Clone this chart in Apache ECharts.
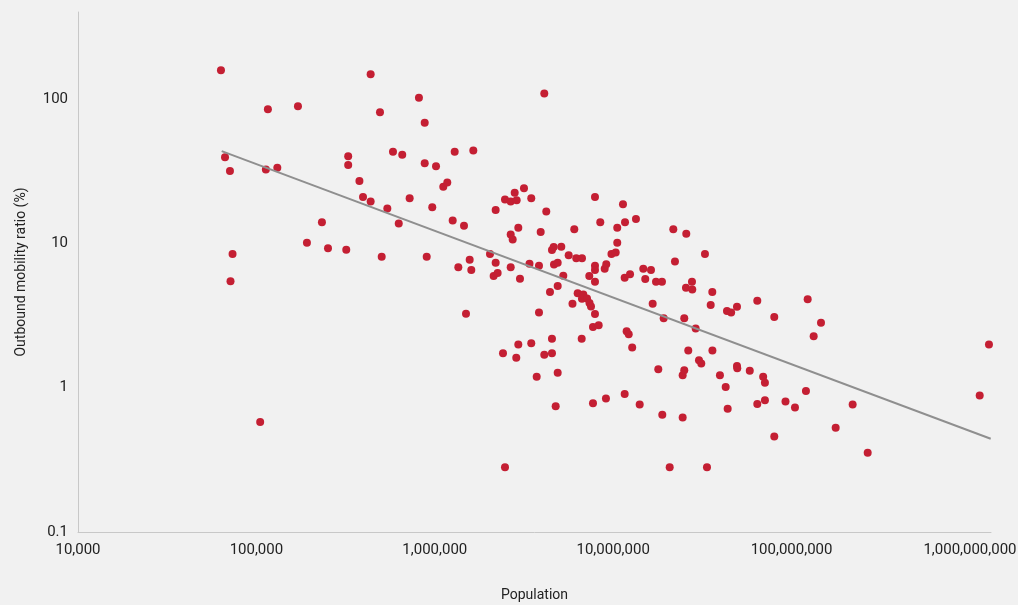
<!DOCTYPE html>
<html>
<head>
<meta charset="utf-8">
<title>Outbound mobility vs population</title>
<script src="https://cdn.jsdelivr.net/npm/echarts@6/dist/echarts.min.js"></script>
<style>
  html, body { margin: 0; padding: 0; background: #f1f1f1; }
  #chart { width: 1018px; height: 605px; }
</style>
</head>
<body>
<div id="chart"></div>
<script>
// population of each country
var population = [
  63300, 66700, 71100, 73500, 71600, 113000, 116000, 131000, 171000, 192000,
  233000, 252000, 105000, 319000, 327000, 327000, 378000, 396000, 437000, 437000,
  493000, 504000, 542000, 583000, 628000, 657000, 723000, 815000, 878000, 878000,
  901000, 968000, 1016000, 1116000, 1175000, 1260000, 1293000, 1355000, 1458000, 1496000,
  1569000, 1602000, 1644000, 2039000, 2138000, 2194000, 2194000, 2251000, 2412000, 2475000,
  2475000, 2664000, 2664000, 2664000, 2733000, 2805000, 2863000, 2877000, 2939000, 2939000,
  3003000, 3162000, 3395000, 3474000, 3474000, 3726000, 3838000, 3838000, 3923000, 4110000,
  4110000, 4217000, 4423000, 4538000, 4538000, 4538000, 4640000, 4658000, 4761000, 4886000,
  4886000, 4886000, 5118000, 5252000, 5631000, 5914000, 6053000, 6211000, 6324000, 6660000,
  6685000, 6685000, 6800000, 7134000, 7346000, 7366000, 7510000, 7706000, 7706000, 7907000,
  7907000, 7907000, 7907000, 7907000, 8293000, 8466000, 8962000, 9110000, 9147000, 9780000,
  10330000, 10540000, 10540000, 11350000, 11600000, 11600000, 11650000, 11900000, 12220000, 12430000,
  12780000, 13420000, 14080000, 14750000, 15130000, 16290000, 16650000, 17380000, 17900000, 18770000,
  18850000, 19190000, 20740000, 21730000, 22200000, 24520000, 24520000, 25030000, 25030000, 25590000,
  25690000, 26360000, 27650000, 27760000, 29000000, 30270000, 31180000, 32700000, 33560000, 35210000,
  35940000, 36000000, 39670000, 42720000, 43440000, 43830000, 45850000, 49430000, 49430000, 49610000,
  58300000, 64240000, 64240000, 69300000, 70900000, 70900000, 80000000, 80000000, 92450000, 104500000,
  120400000, 123100000, 133000000, 146200000, 176700000, 220000000, 267100000, 1134000000, 1278000000
];

// outbound mobility ratio (%), same order
var mobilityRatio = [
  158, 39.4, 31.7, 8.44, 5.45, 32.5, 84.7, 33.3, 88.9, 10.1,
  14.0, 9.22, 0.578, 9.03, 40.0, 34.8, 27.0, 20.9, 19.5, 148,
  80.7, 8.07, 17.4, 43.1, 13.7, 41.1, 20.5, 102, 68.5, 35.8,
  8.07, 17.8, 34.1, 24.6, 26.4, 14.4, 43.1, 6.81, 13.2, 3.25,
  7.70, 6.52, 44.0, 8.42, 5.94, 17.0, 7.34, 6.22, 1.73, 20.1,
  0.281, 19.5, 11.5, 6.81, 10.6, 22.4, 1.61, 19.9, 12.8, 1.99,
  5.67, 24.1, 7.20, 20.5, 2.03, 1.19, 7.00, 3.32, 11.96, 109,
  1.69, 16.6, 4.59, 9.00, 2.18, 1.73, 9.44, 7.14, 0.744, 7.34,
  5.05, 1.27, 9.47, 5.96, 8.25, 3.81, 12.5, 7.86, 4.50, 2.18,
  7.86, 4.12, 4.42, 4.15, 5.94, 3.86, 3.65, 2.63, 0.781, 20.9,
  7.00, 6.54, 5.42, 3.24, 2.70, 14.0, 6.67, 0.842, 7.17, 8.44,
  8.62, 12.8, 10.1, 18.6, 5.78, 0.902, 14.0, 2.46, 2.34, 6.09,
  1.90, 14.7, 0.765, 6.67, 5.65, 6.52, 3.81, 5.42, 1.34, 5.42,
  0.649, 3.02, 0.281, 12.5, 7.49, 1.22, 0.622, 3.02, 1.32, 4.92,
  11.65, 1.81, 5.42, 4.79, 2.57, 1.55, 1.47, 8.42, 0.281, 3.73,
  4.59, 1.81, 1.22, 1.01, 3.40, 0.714, 3.32, 3.64, 1.41, 1.36,
  1.31, 4.00, 0.769, 1.19, 1.08, 0.819, 3.09, 0.459, 0.802, 0.729,
  0.946, 4.09, 2.27, 2.82, 0.527, 0.765, 0.354, 0.883, 1.99
];

// power trend line, read at its two ends
var trendPopulation = [63900, 1307000000];
var trendRatio = [43.5, 0.4425];

var points = population.map(function (p, i) { return [p, mobilityRatio[i]]; });
var trend = trendPopulation.map(function (p, i) { return [p, trendRatio[i]]; });

// only label the powers of ten
function isDecade(v) {
  var l = Math.log10(v);
  return Math.abs(l - Math.round(l)) < 1e-6;
}

var chart = echarts.init(document.getElementById('chart'));
var fontFamily = 'Roboto, "Noto Sans", sans-serif';

chart.setOption({
  backgroundColor: '#f1f1f1',
  animation: false,
  textStyle: { fontFamily: fontFamily },
  grid: {
    left: 78,
    right: 27,
    top: 12,
    bottom: 73,
    containLabel: false,
    outerBoundsMode: 'none'
  },
  xAxis: {
    type: 'log',
    logBase: 10,
    min: 10000,
    max: 1312000000,
    name: 'Population',
    nameLocation: 'middle',
    nameGap: 56,
    nameTextStyle: { color: '#222', fontSize: 14, fontFamily: fontFamily },
    axisLine: { show: true, lineStyle: { color: '#c8c8c8', width: 1 } },
    axisTick: { show: false },
    splitLine: { show: false },
    minorTick: { show: false },
    axisLabel: {
      color: '#222',
      fontSize: 15,
      margin: 11,
      showMaxLabel: false,
      formatter: function (v) {
        if (!isDecade(v)) return '';
        return Math.round(v).toLocaleString('en-US');
      }
    }
  },
  yAxis: {
    type: 'log',
    logBase: 10,
    min: 0.1,
    max: 400,
    name: 'Outbound mobility ratio (%)',
    nameLocation: 'middle',
    nameGap: 50,
    nameTextStyle: { color: '#222', fontSize: 14, fontFamily: fontFamily },
    axisLine: { show: true, lineStyle: { color: '#c8c8c8', width: 1 } },
    axisTick: { show: false },
    splitLine: { show: false },
    axisLabel: {
      color: '#222',
      fontSize: 15,
      margin: 10,
      showMaxLabel: false,
      formatter: function (v) {
        if (!isDecade(v)) return '';
        return String(parseFloat(v.toPrecision(6)));
      }
    }
  },
  series: [
    {
      name: 'Countries',
      type: 'scatter',
      symbol: 'circle',
      symbolSize: 8,
      itemStyle: { color: '#c41f33', opacity: 1 },
      data: points,
      z: 2
    },
    {
      name: 'Trend',
      type: 'line',
      symbol: 'none',
      lineStyle: { color: '#8f8f8f', width: 2 },
      data: trend,
      z: 3
    }
  ]
});
</script>
</body>
</html>
